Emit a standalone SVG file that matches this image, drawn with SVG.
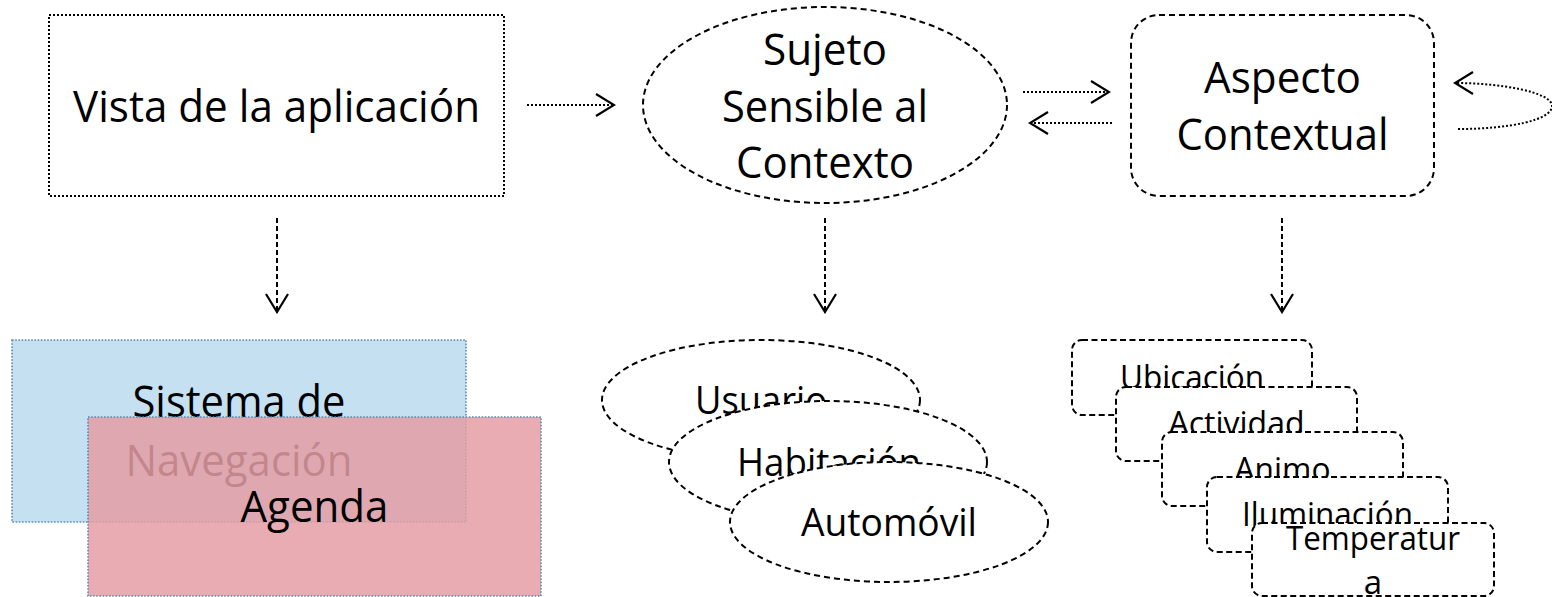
<svg xmlns="http://www.w3.org/2000/svg" width="1552" height="597" viewBox="0 0 1552 597">
  <style>
    text { font-family: "Open Sans", "Liberation Sans", sans-serif; fill: #000; text-anchor: middle; }
    .big { font-size: 44px; }
    .mid { font-size: 39px; }
    .sm { font-size: 33px; }
    .dotbox { fill: #fff; stroke: #000; stroke-width: 2; stroke-dasharray: 2 2; }
    .dash { fill: #fff; stroke: #000; stroke-width: 2; stroke-dasharray: 6 4; }
    .dashsm { fill: #fff; stroke: #000; stroke-width: 2; stroke-dasharray: 6 3.5; }
    .conn-dot { fill: none; stroke: #000; stroke-width: 2; stroke-dasharray: 2 2; }
    .conn-dash { fill: none; stroke: #000; stroke-width: 2; stroke-dasharray: 5 3; }
    .tint { stroke: #5a8ab0; stroke-width: 1.6; stroke-dasharray: 1.6 1.6; }
  </style>
  <defs>
    <marker id="open" markerUnits="userSpaceOnUse" viewBox="-21 -13 23 26" refX="0" refY="0" markerWidth="23" markerHeight="26" orient="auto">
      <path d="M-18,-11 L0,0 L-18,11" fill="none" stroke="#000" stroke-width="2.2" stroke-dasharray="none"/>
    </marker>
  </defs>

  <!-- top row -->
  <g id="vista">
    <rect class="dotbox" x="49" y="15" width="455" height="181"/>
    <text class="big" x="276.5" y="122" textLength="407" lengthAdjust="spacingAndGlyphs">Vista de la aplicación</text>
  </g>

  <g id="sujeto">
    <ellipse class="dash" cx="825" cy="105" rx="182" ry="98"/>
    <text class="big" x="825" y="65" textLength="124" lengthAdjust="spacingAndGlyphs">Sujeto</text>
    <text class="big" x="825" y="122" textLength="206" lengthAdjust="spacingAndGlyphs">Sensible al</text>
    <text class="big" x="825" y="178" textLength="178" lengthAdjust="spacingAndGlyphs">Contexto</text>
  </g>

  <g id="aspecto">
    <rect class="dash" x="1131" y="15" width="303" height="181" rx="28" ry="28" stroke-width="2.4"/>
    <text class="big" x="1282.5" y="93" textLength="157" lengthAdjust="spacingAndGlyphs">Aspecto</text>
    <text class="big" x="1282.5" y="150" textLength="212" lengthAdjust="spacingAndGlyphs">Contextual</text>
  </g>

  <!-- bottom left: applications -->
  <g id="navegacion">
    <rect class="tint" x="12" y="340" width="454" height="182" fill="#c4e0f1"/>
    <text class="big" x="239" y="417" textLength="213" lengthAdjust="spacingAndGlyphs">Sistema de</text>
    <text class="big" x="239" y="476" textLength="227" lengthAdjust="spacingAndGlyphs">Navegación</text>
  </g>
  <g id="agenda">
    <rect x="88" y="417" width="453" height="179" fill="rgb(228,158,164)" fill-opacity="0.85"/>
    <rect class="tint" x="88" y="417" width="453" height="179" fill="none"/>
    <text class="big" x="314.5" y="522" textLength="148" lengthAdjust="spacingAndGlyphs">Agenda</text>
  </g>

  <!-- bottom middle: subjects -->
  <g id="usuario">
    <ellipse class="dash" cx="761" cy="400" rx="159" ry="60"/>
    <text class="mid" x="761" y="414" textLength="132" lengthAdjust="spacingAndGlyphs">Usuario</text>
  </g>
  <g id="habitacion">
    <ellipse class="dash" cx="828" cy="462" rx="159" ry="61"/>
    <text class="mid" x="829" y="476" textLength="184" lengthAdjust="spacingAndGlyphs">Habitación</text>
  </g>
  <g id="automovil">
    <ellipse class="dash" cx="889" cy="522" rx="159" ry="60"/>
    <text class="mid" x="889" y="536" textLength="176" lengthAdjust="spacingAndGlyphs">Automóvil</text>
  </g>

  <!-- bottom right: context aspects -->
  <g id="ubicacion">
    <rect class="dashsm" x="1072" y="340" width="240" height="75" rx="10"/>
    <text class="sm" x="1192" y="389" textLength="144" lengthAdjust="spacingAndGlyphs">Ubicación</text>
  </g>
  <g id="actividad">
    <rect class="dashsm" x="1116" y="387" width="241" height="74" rx="10"/>
    <text class="sm" x="1236.5" y="435" textLength="136" lengthAdjust="spacingAndGlyphs">Actividad</text>
  </g>
  <g id="animo">
    <rect class="dashsm" x="1162" y="432" width="241" height="74" rx="10"/>
    <text class="sm" x="1282.5" y="481" textLength="96" lengthAdjust="spacingAndGlyphs">Animo</text>
  </g>
  <g id="iluminacion">
    <rect class="dashsm" x="1207" y="477" width="241" height="75" rx="10"/>
    <text class="sm" x="1327.5" y="526" textLength="171" lengthAdjust="spacingAndGlyphs">Iluminación</text>
  </g>
  <g id="temperatura">
    <rect class="dashsm" x="1252" y="523" width="242" height="73" rx="10"/>
    <text class="sm" x="1373" y="550" textLength="174" lengthAdjust="spacingAndGlyphs">Temperatur</text>
    <text class="sm" x="1373" y="594">a</text>
  </g>

  <!-- connectors -->
  <g id="connectors">
    <path class="conn-dot" d="M527,105 H614" marker-end="url(#open)"/>
    <path class="conn-dot" d="M1023,92 H1109" marker-end="url(#open)"/>
    <path class="conn-dot" d="M1112,123 H1030" marker-end="url(#open)"/>
    <path class="conn-dot" d="M1458,129 C1510,129 1552,120 1552,106 C1552,92 1500,83 1455,83" marker-end="url(#open)"/>
    <path class="conn-dash" d="M277,218 V312" marker-end="url(#open)"/>
    <path class="conn-dash" d="M825,218 V312" marker-end="url(#open)"/>
    <path class="conn-dash" d="M1282,218 V312" marker-end="url(#open)"/>
  </g>
</svg>
